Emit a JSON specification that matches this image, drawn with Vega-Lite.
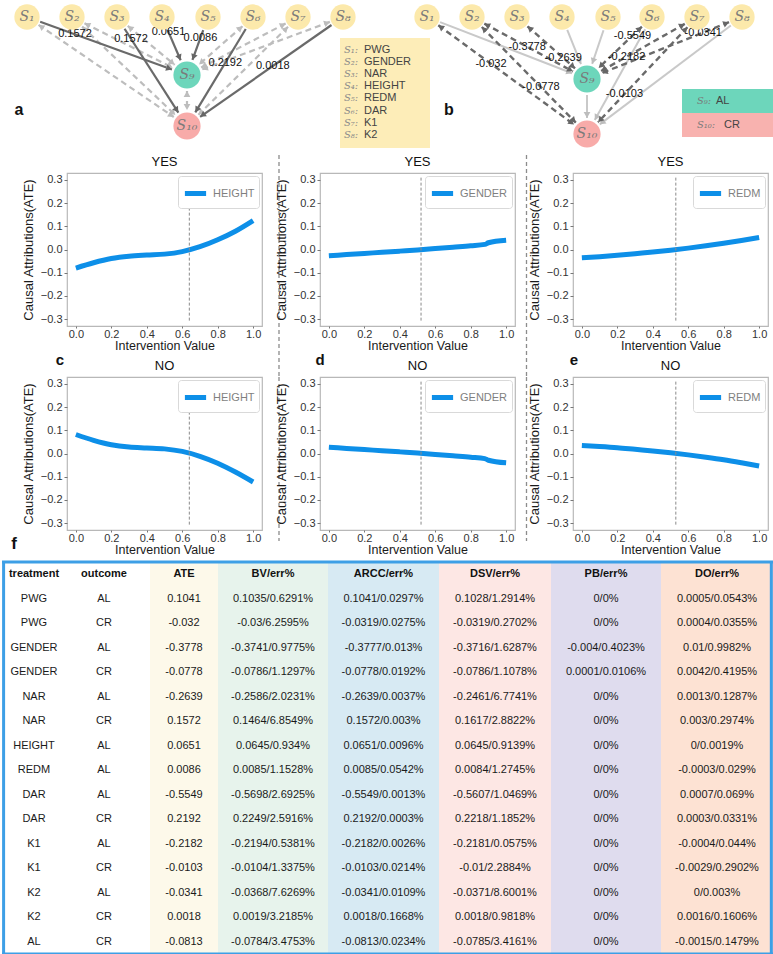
{
"$schema": "https://vega.github.io/schema/vega-lite/v6.json",
"padding": 0,
"background": "white",
"config": {
  "font": "Liberation Sans",
  "view": {"stroke": "#b8b8b8", "strokeWidth": 1.2},
  "axis": {"domain": false, "grid": false, "labelFontSize": 11, "titleFontSize": 13, "titleFontWeight": "normal", "tickSize": 3, "tickColor": "#777777", "labelColor": "#333333", "titleColor": "#1a1a1a", "labelPadding": 2, "labelOverlap": false},
  "title": {"fontSize": 13, "fontWeight": "normal", "offset": 4, "color": "#111111"},
  "legend": {"orient": "top-right", "offset": 3, "strokeColor": "#d9d9d9", "padding": 4, "cornerRadius": 3, "fillColor": "#ffffff", "labelColor": "#7f7f7f", "labelFontSize": 11, "symbolStrokeWidth": 5, "symbolSize": 450}
},
"datasets": {
  "nodes": [
    {"id":"aS1","lab":"S₁","kind":"X","x":25,"y":17},
    {"id":"aS2","lab":"S₂","kind":"X","x":70,"y":17},
    {"id":"aS3","lab":"S₃","kind":"X","x":115,"y":17},
    {"id":"aS4","lab":"S₄","kind":"X","x":160,"y":17},
    {"id":"aS5","lab":"S₅","kind":"X","x":206,"y":17},
    {"id":"aS6","lab":"S₆","kind":"X","x":251,"y":17},
    {"id":"aS7","lab":"S₇","kind":"X","x":296,"y":17},
    {"id":"aS8","lab":"S₈","kind":"X","x":341,"y":17},
    {"id":"aS9","lab":"S₉","kind":"AL","x":185,"y":75},
    {"id":"aS10","lab":"S₁₀","kind":"CR","x":185,"y":126},
    {"id":"bS1","lab":"S₁","kind":"X","x":425,"y":17},
    {"id":"bS2","lab":"S₂","kind":"X","x":470,"y":17},
    {"id":"bS3","lab":"S₃","kind":"X","x":515,"y":17},
    {"id":"bS4","lab":"S₄","kind":"X","x":560,"y":17},
    {"id":"bS5","lab":"S₅","kind":"X","x":606,"y":17},
    {"id":"bS6","lab":"S₆","kind":"X","x":650,"y":17},
    {"id":"bS7","lab":"S₇","kind":"X","x":695,"y":17},
    {"id":"bS8","lab":"S₈","kind":"X","x":740,"y":17},
    {"id":"bS9","lab":"S₉","kind":"AL","x":585,"y":79},
    {"id":"bS10","lab":"S₁₀","kind":"CR","x":585,"y":134}
  ],
  "edges": [
    {"g":"a","s":"S1","t":"S9","w":"0.1572","p":0.3},
    {"g":"a","s":"S3","t":"S10","w":"0.1572","p":0.2},
    {"g":"a","s":"S4","t":"S9","w":"0.0651","p":0.26},
    {"g":"a","s":"S5","t":"S9","w":"0.0086","p":0.36},
    {"g":"a","s":"S6","t":"S10","w":"0.2192","p":0.42},
    {"g":"a","s":"S8","t":"S10","w":"0.0018","p":0.45},
    {"g":"a","s":"S1","t":"S10","w":"","p":0},
    {"g":"a","s":"S2","t":"S9","w":"","p":0},
    {"g":"a","s":"S2","t":"S10","w":"","p":0},
    {"g":"a","s":"S3","t":"S9","w":"","p":0},
    {"g":"a","s":"S6","t":"S9","w":"","p":0},
    {"g":"a","s":"S7","t":"S9","w":"","p":0},
    {"g":"a","s":"S7","t":"S10","w":"","p":0},
    {"g":"a","s":"S8","t":"S9","w":"","p":0},
    {"g":"a","s":"S9","t":"S10","w":"","p":0},
    {"g":"b","s":"S1","t":"S9","w":"","p":0},
    {"g":"b","s":"S4","t":"S9","w":"","p":0},
    {"g":"b","s":"S5","t":"S9","w":"","p":0},
    {"g":"b","s":"S6","t":"S10","w":"","p":0},
    {"g":"b","s":"S8","t":"S10","w":"","p":0},
    {"g":"b","s":"S9","t":"S10","w":"","p":0},
    {"g":"b","s":"S1","t":"S10","w":"-0.032","p":0.4},
    {"g":"b","s":"S2","t":"S9","w":"-0.3778","p":0.48},
    {"g":"b","s":"S2","t":"S10","w":"-0.0778","p":0.6},
    {"g":"b","s":"S3","t":"S9","w":"-0.2639","p":0.66},
    {"g":"b","s":"S6","t":"S9","w":"-0.5549","p":0.3},
    {"g":"b","s":"S7","t":"S9","w":"-0.2182","p":0.64},
    {"g":"b","s":"S7","t":"S10","w":"-0.0103","p":0.66},
    {"g":"b","s":"S8","t":"S9","w":"-0.0341","p":0.25}
  ],
  "legA": [
    {"k":1,"s":"S₁:","name":"PWG"},
    {"k":2,"s":"S₂:","name":"GENDER"},
    {"k":3,"s":"S₃:","name":"NAR"},
    {"k":4,"s":"S₄:","name":"HEIGHT"},
    {"k":5,"s":"S₅:","name":"REDM"},
    {"k":6,"s":"S₆:","name":"DAR"},
    {"k":7,"s":"S₇:","name":"K1"},
    {"k":8,"s":"S₈:","name":"K2"}
  ],
  "legB": [
    {"k":1,"s":"S₉:","name":"AL"},
    {"k":2,"s":"S₁₀:","name":"CR"}
  ],
  "curves": [
    {"feat":"HEIGHT","cond":"YES","iv":0,"ate":-0.080},{"feat":"HEIGHT","cond":"YES","iv":0.1,"ate":-0.057},{"feat":"HEIGHT","cond":"YES","iv":0.2,"ate":-0.039},{"feat":"HEIGHT","cond":"YES","iv":0.3,"ate":-0.029},{"feat":"HEIGHT","cond":"YES","iv":0.4,"ate":-0.024},{"feat":"HEIGHT","cond":"YES","iv":0.5,"ate":-0.020},{"feat":"HEIGHT","cond":"YES","iv":0.6,"ate":-0.009},{"feat":"HEIGHT","cond":"YES","iv":0.7,"ate":0.012},{"feat":"HEIGHT","cond":"YES","iv":0.8,"ate":0.042},{"feat":"HEIGHT","cond":"YES","iv":0.9,"ate":0.079},{"feat":"HEIGHT","cond":"YES","iv":1.0,"ate":0.125},
    {"feat":"HEIGHT","cond":"NO","iv":0,"ate":0.082},{"feat":"HEIGHT","cond":"NO","iv":0.1,"ate":0.057},{"feat":"HEIGHT","cond":"NO","iv":0.2,"ate":0.038},{"feat":"HEIGHT","cond":"NO","iv":0.3,"ate":0.028},{"feat":"HEIGHT","cond":"NO","iv":0.4,"ate":0.024},{"feat":"HEIGHT","cond":"NO","iv":0.5,"ate":0.020},{"feat":"HEIGHT","cond":"NO","iv":0.6,"ate":0.009},{"feat":"HEIGHT","cond":"NO","iv":0.7,"ate":-0.012},{"feat":"HEIGHT","cond":"NO","iv":0.8,"ate":-0.042},{"feat":"HEIGHT","cond":"NO","iv":0.9,"ate":-0.080},{"feat":"HEIGHT","cond":"NO","iv":1.0,"ate":-0.123},
    {"feat":"GENDER","cond":"YES","iv":0,"ate":-0.027},{"feat":"GENDER","cond":"YES","iv":0.1,"ate":-0.022},{"feat":"GENDER","cond":"YES","iv":0.2,"ate":-0.017},{"feat":"GENDER","cond":"YES","iv":0.3,"ate":-0.012},{"feat":"GENDER","cond":"YES","iv":0.4,"ate":-0.007},{"feat":"GENDER","cond":"YES","iv":0.5,"ate":-0.002},{"feat":"GENDER","cond":"YES","iv":0.6,"ate":0.004},{"feat":"GENDER","cond":"YES","iv":0.7,"ate":0.010},{"feat":"GENDER","cond":"YES","iv":0.8,"ate":0.016},{"feat":"GENDER","cond":"YES","iv":0.88,"ate":0.022},{"feat":"GENDER","cond":"YES","iv":0.9,"ate":0.029},{"feat":"GENDER","cond":"YES","iv":1.0,"ate":0.040},
    {"feat":"GENDER","cond":"NO","iv":0,"ate":0.027},{"feat":"GENDER","cond":"NO","iv":0.1,"ate":0.022},{"feat":"GENDER","cond":"NO","iv":0.2,"ate":0.017},{"feat":"GENDER","cond":"NO","iv":0.3,"ate":0.012},{"feat":"GENDER","cond":"NO","iv":0.4,"ate":0.007},{"feat":"GENDER","cond":"NO","iv":0.5,"ate":0.002},{"feat":"GENDER","cond":"NO","iv":0.6,"ate":-0.004},{"feat":"GENDER","cond":"NO","iv":0.7,"ate":-0.010},{"feat":"GENDER","cond":"NO","iv":0.8,"ate":-0.016},{"feat":"GENDER","cond":"NO","iv":0.88,"ate":-0.022},{"feat":"GENDER","cond":"NO","iv":0.9,"ate":-0.029},{"feat":"GENDER","cond":"NO","iv":1.0,"ate":-0.040},
    {"feat":"REDM","cond":"YES","iv":0,"ate":-0.036},{"feat":"REDM","cond":"YES","iv":0.1,"ate":-0.031},{"feat":"REDM","cond":"YES","iv":0.2,"ate":-0.025},{"feat":"REDM","cond":"YES","iv":0.3,"ate":-0.018},{"feat":"REDM","cond":"YES","iv":0.4,"ate":-0.011},{"feat":"REDM","cond":"YES","iv":0.5,"ate":-0.003},{"feat":"REDM","cond":"YES","iv":0.6,"ate":0.006},{"feat":"REDM","cond":"YES","iv":0.7,"ate":0.016},{"feat":"REDM","cond":"YES","iv":0.8,"ate":0.027},{"feat":"REDM","cond":"YES","iv":0.9,"ate":0.039},{"feat":"REDM","cond":"YES","iv":1.0,"ate":0.052},
    {"feat":"REDM","cond":"NO","iv":0,"ate":0.034},{"feat":"REDM","cond":"NO","iv":0.1,"ate":0.030},{"feat":"REDM","cond":"NO","iv":0.2,"ate":0.025},{"feat":"REDM","cond":"NO","iv":0.3,"ate":0.018},{"feat":"REDM","cond":"NO","iv":0.4,"ate":0.011},{"feat":"REDM","cond":"NO","iv":0.5,"ate":0.003},{"feat":"REDM","cond":"NO","iv":0.6,"ate":-0.006},{"feat":"REDM","cond":"NO","iv":0.7,"ate":-0.016},{"feat":"REDM","cond":"NO","iv":0.8,"ate":-0.027},{"feat":"REDM","cond":"NO","iv":0.9,"ate":-0.040},{"feat":"REDM","cond":"NO","iv":1.0,"ate":-0.054}
  ],
  "table": [
    {"i":1,"treatment":"PWG","outcome":"AL","ATE":"0.1041","BV":"0.1035/0.6291%","ARCC":"0.1041/0.0297%","DSV":"0.1028/1.2914%","PB":"0/0%","DO":"0.0005/0.0543%"},
    {"i":2,"treatment":"PWG","outcome":"CR","ATE":"-0.032","BV":"-0.03/6.2595%","ARCC":"-0.0319/0.0275%","DSV":"-0.0319/0.2702%","PB":"0/0%","DO":"0.0004/0.0355%"},
    {"i":3,"treatment":"GENDER","outcome":"AL","ATE":"-0.3778","BV":"-0.3741/0.9775%","ARCC":"-0.3777/0.013%","DSV":"-0.3716/1.6287%","PB":"-0.004/0.4023%","DO":"0.01/0.9982%"},
    {"i":4,"treatment":"GENDER","outcome":"CR","ATE":"-0.0778","BV":"-0.0786/1.1297%","ARCC":"-0.0778/0.0192%","DSV":"-0.0786/1.1078%","PB":"0.0001/0.0106%","DO":"0.0042/0.4195%"},
    {"i":5,"treatment":"NAR","outcome":"AL","ATE":"-0.2639","BV":"-0.2586/2.0231%","ARCC":"-0.2639/0.0037%","DSV":"-0.2461/6.7741%","PB":"0/0%","DO":"0.0013/0.1287%"},
    {"i":6,"treatment":"NAR","outcome":"CR","ATE":"0.1572","BV":"0.1464/6.8549%","ARCC":"0.1572/0.003%","DSV":"0.1617/2.8822%","PB":"0/0%","DO":"0.003/0.2974%"},
    {"i":7,"treatment":"HEIGHT","outcome":"AL","ATE":"0.0651","BV":"0.0645/0.934%","ARCC":"0.0651/0.0096%","DSV":"0.0645/0.9139%","PB":"0/0%","DO":"0/0.0019%"},
    {"i":8,"treatment":"REDM","outcome":"AL","ATE":"0.0086","BV":"0.0085/1.1528%","ARCC":"0.0085/0.0542%","DSV":"0.0084/1.2745%","PB":"0/0%","DO":"-0.0003/0.029%"},
    {"i":9,"treatment":"DAR","outcome":"AL","ATE":"-0.5549","BV":"-0.5698/2.6925%","ARCC":"-0.5549/0.0013%","DSV":"-0.5607/1.0469%","PB":"0/0%","DO":"0.0007/0.069%"},
    {"i":10,"treatment":"DAR","outcome":"CR","ATE":"0.2192","BV":"0.2249/2.5916%","ARCC":"0.2192/0.0003%","DSV":"0.2218/1.1852%","PB":"0/0%","DO":"0.0003/0.0331%"},
    {"i":11,"treatment":"K1","outcome":"AL","ATE":"-0.2182","BV":"-0.2194/0.5381%","ARCC":"-0.2182/0.0026%","DSV":"-0.2181/0.0575%","PB":"0/0%","DO":"-0.0004/0.044%"},
    {"i":12,"treatment":"K1","outcome":"CR","ATE":"-0.0103","BV":"-0.0104/1.3375%","ARCC":"-0.0103/0.0214%","DSV":"-0.01/2.2884%","PB":"0/0%","DO":"-0.0029/0.2902%"},
    {"i":13,"treatment":"K2","outcome":"AL","ATE":"-0.0341","BV":"-0.0368/7.6269%","ARCC":"-0.0341/0.0109%","DSV":"-0.0371/8.6001%","PB":"0/0%","DO":"0/0.003%"},
    {"i":14,"treatment":"K2","outcome":"CR","ATE":"0.0018","BV":"0.0019/3.2185%","ARCC":"0.0018/0.1668%","DSV":"0.0018/0.9818%","PB":"0/0%","DO":"0.0016/0.1606%"},
    {"i":15,"treatment":"AL","outcome":"CR","ATE":"-0.0813","BV":"-0.0784/3.4753%","ARCC":"-0.0813/0.0234%","DSV":"-0.0785/3.4161%","PB":"0/0%","DO":"-0.0015/0.1479%"}
  ]
},
"spacing": 6,
"resolve": {"scale": {"color": "independent"}, "legend": {"color": "independent"}},
"vconcat": [
  {
    "width": 773, "height": 148,
    "view": {"stroke": null},
    "layer": [
      {"data": {"values": [{}]}, "mark": {"type": "rect", "color": "#fdedb8"},
       "encoding": {"x": {"datum": 338, "type": "quantitative", "scale": {"domain": [0, 773], "nice": false, "zero": false}, "axis": null}, "x2": {"datum": 428},
                    "y": {"datum": 38, "type": "quantitative", "scale": {"domain": [0, 148], "nice": false, "zero": false, "reverse": true}, "axis": null}, "y2": {"datum": 148}}},
      {"data": {"values": [{}]}, "mark": {"type": "rect", "color": "#6dd6bb"},
       "encoding": {"x": {"datum": 680, "type": "quantitative", "axis": null}, "x2": {"datum": 771}, "y": {"datum": 89, "type": "quantitative", "axis": null}, "y2": {"datum": 113}}},
      {"data": {"values": [{}]}, "mark": {"type": "rect", "color": "#f8b2af"},
       "encoding": {"x": {"datum": 680, "type": "quantitative", "axis": null}, "x2": {"datum": 771}, "y": {"datum": 113, "type": "quantitative", "axis": null}, "y2": {"datum": 137}}},
      {"data": {"name": "edges"},
       "transform": [
         {"calculate": "datum.g + datum.s", "as": "sid"},
         {"calculate": "datum.g + datum.t", "as": "tid"},
         {"lookup": "sid", "from": {"data": {"name": "nodes"}, "key": "id", "fields": ["x", "y"]}, "as": ["x1", "y1"]},
         {"lookup": "tid", "from": {"data": {"name": "nodes"}, "key": "id", "fields": ["x", "y"]}, "as": ["x2", "y2"]},
         {"calculate": "sqrt(pow(datum.x2 - datum.x1, 2) + pow(datum.y2 - datum.y1, 2))", "as": "L"},
         {"calculate": "(datum.x2 - datum.x1) / datum.L", "as": "ux"},
         {"calculate": "(datum.y2 - datum.y1) / datum.L", "as": "uy"},
         {"calculate": "datum.s == 'S9' ? 16 : 14", "as": "rs"},
         {"calculate": "datum.x1 + datum.ux * datum.rs", "as": "xa"},
         {"calculate": "datum.y1 + datum.uy * datum.rs", "as": "ya"},
         {"calculate": "datum.x2 - datum.ux * 16", "as": "xb"},
         {"calculate": "datum.y2 - datum.uy * 16", "as": "yb"},
         {"calculate": "datum.x2 - datum.ux * 19", "as": "xt"},
         {"calculate": "datum.y2 - datum.uy * 19", "as": "yt"},
         {"calculate": "datum.x1 + datum.ux * (datum.rs + 3)", "as": "xs"},
         {"calculate": "datum.y1 + datum.uy * (datum.rs + 3)", "as": "ys"},
         {"calculate": "atan2(datum.ux, -datum.uy) * 180 / PI", "as": "ang"},
         {"calculate": "datum.ang + 180", "as": "angs"},
         {"calculate": "datum.x1 + datum.p * (datum.x2 - datum.x1)", "as": "lx"},
         {"calculate": "datum.y1 + datum.p * (datum.y2 - datum.y1)", "as": "ly"}
       ],
       "layer": [
         {"transform": [{"filter": "datum.g == 'a' && datum.w == ''"}], "mark": {"type": "rule", "color": "#bdbdbd", "strokeWidth": 2.2, "strokeDash": [6, 4]},
          "encoding": {"x": {"field": "xa", "type": "quantitative", "axis": null}, "y": {"field": "ya", "type": "quantitative", "axis": null}, "x2": {"field": "xb"}, "y2": {"field": "yb"}}},
         {"transform": [{"filter": "datum.g == 'a' && datum.w != ''"}], "mark": {"type": "rule", "color": "#6a6a6a", "strokeWidth": 2.2},
          "encoding": {"x": {"field": "xa", "type": "quantitative", "axis": null}, "y": {"field": "ya", "type": "quantitative", "axis": null}, "x2": {"field": "xb"}, "y2": {"field": "yb"}}},
         {"transform": [{"filter": "datum.g == 'b' && datum.w == ''"}], "mark": {"type": "rule", "color": "#c9c9c9", "strokeWidth": 2},
          "encoding": {"x": {"field": "xa", "type": "quantitative", "axis": null}, "y": {"field": "ya", "type": "quantitative", "axis": null}, "x2": {"field": "xb"}, "y2": {"field": "yb"}}},
         {"transform": [{"filter": "datum.g == 'b' && datum.w != ''"}], "mark": {"type": "rule", "color": "#6a6a6a", "strokeWidth": 2.4, "strokeDash": [6, 4]},
          "encoding": {"x": {"field": "xa", "type": "quantitative", "axis": null}, "y": {"field": "ya", "type": "quantitative", "axis": null}, "x2": {"field": "xb"}, "y2": {"field": "yb"}}},
         {"transform": [{"filter": "datum.w == ''"}], "mark": {"type": "point", "shape": "triangle-up", "filled": true, "size": 45, "color": "#bdbdbd", "opacity": 1},
          "encoding": {"x": {"field": "xt", "type": "quantitative", "axis": null}, "y": {"field": "yt", "type": "quantitative", "axis": null}, "angle": {"field": "ang", "type": "quantitative", "scale": null}}},
         {"transform": [{"filter": "datum.w != ''"}], "mark": {"type": "point", "shape": "triangle-up", "filled": true, "size": 45, "color": "#666666", "opacity": 1},
          "encoding": {"x": {"field": "xt", "type": "quantitative", "axis": null}, "y": {"field": "yt", "type": "quantitative", "axis": null}, "angle": {"field": "ang", "type": "quantitative", "scale": null}}},
         {"transform": [{"filter": "datum.g == 'a' && datum.w == ''"}], "mark": {"type": "point", "shape": "triangle-up", "filled": true, "size": 45, "color": "#bdbdbd", "opacity": 1},
          "encoding": {"x": {"field": "xs", "type": "quantitative", "axis": null}, "y": {"field": "ys", "type": "quantitative", "axis": null}, "angle": {"field": "angs", "type": "quantitative", "scale": null}}},
         {"transform": [{"filter": "datum.g == 'b' && datum.w != ''"}], "mark": {"type": "point", "shape": "triangle-up", "filled": true, "size": 45, "color": "#666666", "opacity": 1},
          "encoding": {"x": {"field": "xs", "type": "quantitative", "axis": null}, "y": {"field": "ys", "type": "quantitative", "axis": null}, "angle": {"field": "angs", "type": "quantitative", "scale": null}}},
         {"transform": [{"filter": "datum.w != ''"}], "mark": {"type": "text", "fontSize": 11, "color": "#111111"},
          "encoding": {"x": {"field": "lx", "type": "quantitative", "axis": null}, "y": {"field": "ly", "type": "quantitative", "axis": null}, "text": {"field": "w"}}}
       ]},
      {"data": {"name": "nodes"},
       "layer": [
         {"transform": [{"filter": "datum.kind == 'X'"}], "mark": {"type": "point", "shape": "circle", "filled": true, "opacity": 1, "size": 640, "color": "#fce9ab"},
          "encoding": {"x": {"field": "x", "type": "quantitative", "axis": null}, "y": {"field": "y", "type": "quantitative", "axis": null}}},
         {"transform": [{"filter": "datum.kind == 'AL'"}], "mark": {"type": "point", "shape": "circle", "filled": true, "opacity": 1, "size": 740, "color": "#6dd6bb"},
          "encoding": {"x": {"field": "x", "type": "quantitative", "axis": null}, "y": {"field": "y", "type": "quantitative", "axis": null}}},
         {"transform": [{"filter": "datum.kind == 'CR'"}], "mark": {"type": "point", "shape": "circle", "filled": true, "opacity": 1, "size": 740, "color": "#f8aba9"},
          "encoding": {"x": {"field": "x", "type": "quantitative", "axis": null}, "y": {"field": "y", "type": "quantitative", "axis": null}}},
         {"mark": {"type": "text", "font": "DejaVu Serif", "fontStyle": "italic", "fontSize": 14, "color": "#7a7a7a"},
          "encoding": {"x": {"field": "x", "type": "quantitative", "axis": null}, "y": {"field": "y", "type": "quantitative", "axis": null}, "text": {"field": "lab"}}}
       ]},
      {"data": {"name": "legA"},
       "transform": [{"calculate": "50 + 12.1 * (datum.k - 1)", "as": "yy"}],
       "layer": [
         {"mark": {"type": "text", "align": "left", "font": "DejaVu Serif", "fontStyle": "italic", "fontSize": 10, "color": "#8a8a8a"},
          "encoding": {"x": {"datum": 342, "type": "quantitative", "axis": null}, "y": {"field": "yy", "type": "quantitative", "axis": null}, "text": {"field": "s"}}},
         {"mark": {"type": "text", "align": "left", "fontSize": 11, "color": "#444444"},
          "encoding": {"x": {"datum": 362, "type": "quantitative", "axis": null}, "y": {"field": "yy", "type": "quantitative", "axis": null}, "text": {"field": "name"}}}
       ]},
      {"data": {"name": "legB"},
       "transform": [{"calculate": "101 + 24 * (datum.k - 1)", "as": "yy"}, {"calculate": "datum.k == 1 ? 714 : 722", "as": "nx"}],
       "layer": [
         {"mark": {"type": "text", "align": "left", "font": "DejaVu Serif", "fontStyle": "italic", "fontSize": 10, "color": "#7a7a7a"},
          "encoding": {"x": {"datum": 695, "type": "quantitative", "axis": null}, "y": {"field": "yy", "type": "quantitative", "axis": null}, "text": {"field": "s"}}},
         {"mark": {"type": "text", "align": "left", "fontSize": 11, "color": "#444444"},
          "encoding": {"x": {"field": "nx", "type": "quantitative", "axis": null}, "y": {"field": "yy", "type": "quantitative", "axis": null}, "text": {"field": "name"}}}
       ]},
      {"data": {"values": [{}]}, "mark": {"type": "text", "fontSize": 16, "fontWeight": "bold", "color": "#111111"},
       "encoding": {"x": {"datum": 17, "type": "quantitative", "axis": null}, "y": {"datum": 110, "type": "quantitative", "axis": null}, "text": {"value": "a"}}},
      {"data": {"values": [{}]}, "mark": {"type": "text", "fontSize": 16, "fontWeight": "bold", "color": "#111111"},
       "encoding": {"x": {"datum": 447, "type": "quantitative", "axis": null}, "y": {"datum": 110, "type": "quantitative", "axis": null}, "text": {"value": "b"}}}
    ]
  },
  {
    "spacing": 3,
    "resolve": {"scale": {"color": "independent"}, "legend": {"color": "independent"}},
    "vconcat": [
      {
        "columns": 6,
        "align": "each",
        "bounds": "flush",
        "spacing": {"row": 51, "column": 17},
        "resolve": {"scale": {"color": "independent"}, "legend": {"color": "independent"}},
        "concat": [
          {"width": 48, "height": 153, "view": {"stroke": null}, "data": {"values": []}, "mark": "point"},
          {"width": 195, "height": 153, "title": {"text": "YES"},
           "data": {"name": "curves"},
           "transform": [{"filter": "datum.feat == 'HEIGHT' && datum.cond == 'YES'"}],
           "resolve": {"scale": {"x": "independent", "y": "independent"}, "axis": {"x": "independent", "y": "independent"}},
           "layer": [
             {"mark": {"type": "line", "strokeWidth": 5, "interpolate": "monotone"},
              "encoding": {
                "x": {"field": "iv", "type": "quantitative", "scale": {"domain": [-0.05, 1.05], "nice": false, "zero": false}, "axis": {"values": [0, 0.2, 0.4, 0.6, 0.8, 1], "format": ".1f", "title": "Intervention Value", "titleFontSize": 12.5, "titlePadding": 0, "labelPadding": 0, "tickSize": 2, "labelOverlap": false}},
                "y": {"field": "ate", "type": "quantitative", "scale": {"domain": [-0.33, 0.33], "nice": false, "zero": false}, "axis": {"values": [-0.3, -0.2, -0.1, 0, 0.1, 0.2, 0.3], "format": ".1f", "title": "Causal Attributions(ATE)", "titlePadding": 5, "labelOverlap": false}},
                "color": {"field": "feat", "type": "nominal", "scale": {"range": ["#0d8fe8"]}, "legend": {"title": null}}}},
             {"transform": [{"aggregate": [{"op": "count", "as": "n"}]}], "mark": {"type": "rule", "color": "#8a8a8a", "strokeDash": [3, 2], "strokeWidth": 1},
              "encoding": {"x": {"datum": 0.64, "type": "quantitative", "scale": {"domain": [-0.05, 1.05], "nice": false, "zero": false}, "axis": null},
                           "y": {"datum": 0.31, "type": "quantitative", "scale": {"domain": [-0.33, 0.33], "nice": false, "zero": false}, "axis": null}, "y2": {"datum": -0.31}}}
           ]},
          {"width": 24, "height": 153, "view": {"stroke": null}, "data": {"values": [{}]},
           "mark": {"type": "rule", "color": "#8c8c8c", "strokeDash": [4, 3], "strokeWidth": 1.3},
           "encoding": {"x": {"datum": 0, "type": "quantitative", "scale": {"domain": [0, 24], "nice": false, "zero": false}, "axis": null},
                        "y": {"datum": -18, "type": "quantitative", "scale": {"domain": [0, 153], "nice": false, "zero": false, "reverse": true}, "axis": null},
                        "y2": {"datum": 204}}},
          {"width": 195, "height": 153, "title": {"text": "YES"},
           "data": {"name": "curves"},
           "transform": [{"filter": "datum.feat == 'GENDER' && datum.cond == 'YES'"}],
           "resolve": {"scale": {"x": "independent", "y": "independent"}, "axis": {"x": "independent", "y": "independent"}},
           "layer": [
             {"mark": {"type": "line", "strokeWidth": 5, "interpolate": "monotone"},
              "encoding": {
                "x": {"field": "iv", "type": "quantitative", "scale": {"domain": [-0.05, 1.05], "nice": false, "zero": false}, "axis": {"values": [0, 0.2, 0.4, 0.6, 0.8, 1], "format": ".1f", "title": "Intervention Value", "titleFontSize": 12.5, "titlePadding": 0, "labelPadding": 0, "tickSize": 2, "labelOverlap": false}},
                "y": {"field": "ate", "type": "quantitative", "scale": {"domain": [-0.33, 0.33], "nice": false, "zero": false}, "axis": {"values": [-0.3, -0.2, -0.1, 0, 0.1, 0.2, 0.3], "format": ".1f", "title": "Causal Attributions(ATE)", "titlePadding": 5, "labelOverlap": false}},
                "color": {"field": "feat", "type": "nominal", "scale": {"range": ["#0d8fe8"]}, "legend": {"title": null}}}},
             {"transform": [{"aggregate": [{"op": "count", "as": "n"}]}], "mark": {"type": "rule", "color": "#8a8a8a", "strokeDash": [3, 2], "strokeWidth": 1},
              "encoding": {"x": {"datum": 0.52, "type": "quantitative", "scale": {"domain": [-0.05, 1.05], "nice": false, "zero": false}, "axis": null},
                           "y": {"datum": 0.31, "type": "quantitative", "scale": {"domain": [-0.33, 0.33], "nice": false, "zero": false}, "axis": null}, "y2": {"datum": -0.31}}}
           ]},
          {"width": 24, "height": 153, "view": {"stroke": null}, "data": {"values": [{}]},
           "mark": {"type": "rule", "color": "#8c8c8c", "strokeDash": [4, 3], "strokeWidth": 1.3},
           "encoding": {"x": {"datum": -5.5, "type": "quantitative", "scale": {"domain": [0, 24], "nice": false, "zero": false}, "axis": null},
                        "y": {"datum": -18, "type": "quantitative", "scale": {"domain": [0, 153], "nice": false, "zero": false, "reverse": true}, "axis": null},
                        "y2": {"datum": 204}}},
          {"width": 195, "height": 153, "title": {"text": "YES"},
           "data": {"name": "curves"},
           "transform": [{"filter": "datum.feat == 'REDM' && datum.cond == 'YES'"}],
           "resolve": {"scale": {"x": "independent", "y": "independent"}, "axis": {"x": "independent", "y": "independent"}},
           "layer": [
             {"mark": {"type": "line", "strokeWidth": 5, "interpolate": "monotone"},
              "encoding": {
                "x": {"field": "iv", "type": "quantitative", "scale": {"domain": [-0.05, 1.05], "nice": false, "zero": false}, "axis": {"values": [0, 0.2, 0.4, 0.6, 0.8, 1], "format": ".1f", "title": "Intervention Value", "titleFontSize": 12.5, "titlePadding": 0, "labelPadding": 0, "tickSize": 2, "labelOverlap": false}},
                "y": {"field": "ate", "type": "quantitative", "scale": {"domain": [-0.33, 0.33], "nice": false, "zero": false}, "axis": {"values": [-0.3, -0.2, -0.1, 0, 0.1, 0.2, 0.3], "format": ".1f", "title": "Causal Attributions(ATE)", "titlePadding": 5, "labelOverlap": false}},
                "color": {"field": "feat", "type": "nominal", "scale": {"range": ["#0d8fe8"]}, "legend": {"title": null}}}},
             {"transform": [{"aggregate": [{"op": "count", "as": "n"}]}], "mark": {"type": "rule", "color": "#8a8a8a", "strokeDash": [3, 2], "strokeWidth": 1},
              "encoding": {"x": {"datum": 0.53, "type": "quantitative", "scale": {"domain": [-0.05, 1.05], "nice": false, "zero": false}, "axis": null},
                           "y": {"datum": 0.31, "type": "quantitative", "scale": {"domain": [-0.33, 0.33], "nice": false, "zero": false}, "axis": null}, "y2": {"datum": -0.31}}}
           ]},
          {"width": 48, "height": 153, "view": {"stroke": null}, "data": {"values": [{}]},
           "layer": [
             {"mark": {"type": "text", "fontSize": 15, "fontWeight": "bold", "color": "#111111"},
              "encoding": {"x": {"datum": 58, "type": "quantitative", "scale": {"domain": [0, 48], "nice": false, "zero": false}, "axis": null},
                           "y": {"datum": -17, "type": "quantitative", "scale": {"domain": [0, 153], "nice": false, "zero": false, "reverse": true}, "axis": null},
                           "text": {"value": "c"}}},
             {"mark": {"type": "text", "fontSize": 17, "fontWeight": "bold", "color": "#111111"},
              "encoding": {"x": {"datum": 12, "type": "quantitative", "axis": null}, "y": {"datum": 167, "type": "quantitative", "axis": null}, "text": {"value": "f"}}}
           ]},
          {"width": 195, "height": 153, "title": {"text": "NO"},
           "data": {"name": "curves"},
           "transform": [{"filter": "datum.feat == 'HEIGHT' && datum.cond == 'NO'"}],
           "resolve": {"scale": {"x": "independent", "y": "independent"}, "axis": {"x": "independent", "y": "independent"}},
           "layer": [
             {"mark": {"type": "line", "strokeWidth": 5, "interpolate": "monotone"},
              "encoding": {
                "x": {"field": "iv", "type": "quantitative", "scale": {"domain": [-0.05, 1.05], "nice": false, "zero": false}, "axis": {"values": [0, 0.2, 0.4, 0.6, 0.8, 1], "format": ".1f", "title": "Intervention Value", "titleFontSize": 12.5, "titlePadding": 0, "labelPadding": 0, "tickSize": 2, "labelOverlap": false}},
                "y": {"field": "ate", "type": "quantitative", "scale": {"domain": [-0.33, 0.33], "nice": false, "zero": false}, "axis": {"values": [-0.3, -0.2, -0.1, 0, 0.1, 0.2, 0.3], "format": ".1f", "title": "Causal Attributions(ATE)", "titlePadding": 5, "labelOverlap": false}},
                "color": {"field": "feat", "type": "nominal", "scale": {"range": ["#0d8fe8"]}, "legend": {"title": null}}}},
             {"transform": [{"aggregate": [{"op": "count", "as": "n"}]}], "mark": {"type": "rule", "color": "#8a8a8a", "strokeDash": [3, 2], "strokeWidth": 1},
              "encoding": {"x": {"datum": 0.64, "type": "quantitative", "scale": {"domain": [-0.05, 1.05], "nice": false, "zero": false}, "axis": null},
                           "y": {"datum": 0.31, "type": "quantitative", "scale": {"domain": [-0.33, 0.33], "nice": false, "zero": false}, "axis": null}, "y2": {"datum": -0.31}}}
           ]},
          {"width": 24, "height": 153, "view": {"stroke": null}, "data": {"values": [{}]},
           "layer": [
             {"mark": {"type": "rule", "color": "#8c8c8c", "strokeDash": [4, 3], "strokeWidth": 1.3},
              "encoding": {"x": {"datum": 0, "type": "quantitative", "scale": {"domain": [0, 24], "nice": false, "zero": false}, "axis": null},
                           "y": {"datum": 0, "type": "quantitative", "scale": {"domain": [0, 153], "nice": false, "zero": false, "reverse": true}, "axis": null},
                           "y2": {"datum": 164}}},
             {"mark": {"type": "text", "fontSize": 15, "fontWeight": "bold", "color": "#111111"},
              "encoding": {"x": {"datum": 41, "type": "quantitative", "axis": null}, "y": {"datum": -17, "type": "quantitative", "axis": null}, "text": {"value": "d"}}}
           ]},
          {"width": 195, "height": 153, "title": {"text": "NO"},
           "data": {"name": "curves"},
           "transform": [{"filter": "datum.feat == 'GENDER' && datum.cond == 'NO'"}],
           "resolve": {"scale": {"x": "independent", "y": "independent"}, "axis": {"x": "independent", "y": "independent"}},
           "layer": [
             {"mark": {"type": "line", "strokeWidth": 5, "interpolate": "monotone"},
              "encoding": {
                "x": {"field": "iv", "type": "quantitative", "scale": {"domain": [-0.05, 1.05], "nice": false, "zero": false}, "axis": {"values": [0, 0.2, 0.4, 0.6, 0.8, 1], "format": ".1f", "title": "Intervention Value", "titleFontSize": 12.5, "titlePadding": 0, "labelPadding": 0, "tickSize": 2, "labelOverlap": false}},
                "y": {"field": "ate", "type": "quantitative", "scale": {"domain": [-0.33, 0.33], "nice": false, "zero": false}, "axis": {"values": [-0.3, -0.2, -0.1, 0, 0.1, 0.2, 0.3], "format": ".1f", "title": "Causal Attributions(ATE)", "titlePadding": 5, "labelOverlap": false}},
                "color": {"field": "feat", "type": "nominal", "scale": {"range": ["#0d8fe8"]}, "legend": {"title": null}}}},
             {"transform": [{"aggregate": [{"op": "count", "as": "n"}]}], "mark": {"type": "rule", "color": "#8a8a8a", "strokeDash": [3, 2], "strokeWidth": 1},
              "encoding": {"x": {"datum": 0.52, "type": "quantitative", "scale": {"domain": [-0.05, 1.05], "nice": false, "zero": false}, "axis": null},
                           "y": {"datum": 0.31, "type": "quantitative", "scale": {"domain": [-0.33, 0.33], "nice": false, "zero": false}, "axis": null}, "y2": {"datum": -0.31}}}
           ]},
          {"width": 24, "height": 153, "view": {"stroke": null}, "data": {"values": [{}]},
           "layer": [
             {"mark": {"type": "rule", "color": "#8c8c8c", "strokeDash": [4, 3], "strokeWidth": 1.3},
              "encoding": {"x": {"datum": -5.5, "type": "quantitative", "scale": {"domain": [0, 24], "nice": false, "zero": false}, "axis": null},
                           "y": {"datum": 0, "type": "quantitative", "scale": {"domain": [0, 153], "nice": false, "zero": false, "reverse": true}, "axis": null},
                           "y2": {"datum": 164}}},
             {"mark": {"type": "text", "fontSize": 15, "fontWeight": "bold", "color": "#111111"},
              "encoding": {"x": {"datum": 42, "type": "quantitative", "axis": null}, "y": {"datum": -17, "type": "quantitative", "axis": null}, "text": {"value": "e"}}}
           ]},
          {"width": 195, "height": 153, "title": {"text": "NO"},
           "data": {"name": "curves"},
           "transform": [{"filter": "datum.feat == 'REDM' && datum.cond == 'NO'"}],
           "resolve": {"scale": {"x": "independent", "y": "independent"}, "axis": {"x": "independent", "y": "independent"}},
           "layer": [
             {"mark": {"type": "line", "strokeWidth": 5, "interpolate": "monotone"},
              "encoding": {
                "x": {"field": "iv", "type": "quantitative", "scale": {"domain": [-0.05, 1.05], "nice": false, "zero": false}, "axis": {"values": [0, 0.2, 0.4, 0.6, 0.8, 1], "format": ".1f", "title": "Intervention Value", "titleFontSize": 12.5, "titlePadding": 0, "labelPadding": 0, "tickSize": 2, "labelOverlap": false}},
                "y": {"field": "ate", "type": "quantitative", "scale": {"domain": [-0.33, 0.33], "nice": false, "zero": false}, "axis": {"values": [-0.3, -0.2, -0.1, 0, 0.1, 0.2, 0.3], "format": ".1f", "title": "Causal Attributions(ATE)", "titlePadding": 5, "labelOverlap": false}},
                "color": {"field": "feat", "type": "nominal", "scale": {"range": ["#0d8fe8"]}, "legend": {"title": null}}}},
             {"transform": [{"aggregate": [{"op": "count", "as": "n"}]}], "mark": {"type": "rule", "color": "#8a8a8a", "strokeDash": [3, 2], "strokeWidth": 1},
              "encoding": {"x": {"datum": 0.53, "type": "quantitative", "scale": {"domain": [-0.05, 1.05], "nice": false, "zero": false}, "axis": null},
                           "y": {"datum": 0.31, "type": "quantitative", "scale": {"domain": [-0.33, 0.33], "nice": false, "zero": false}, "axis": null}, "y2": {"datum": -0.31}}}
           ]}
        ]
      },
      {
        "bounds": "flush",
        "spacing": 0,
        "hconcat": [
          {"width": 64, "height": 392, "view": {"fill": "#ffffff", "stroke": null},
           "layer": [
             {"data": {"name": "table"}, "mark": {"type": "text", "fontSize": 11, "color": "#1a1a1a"},
              "encoding": {"x": {"datum": 0.5, "type": "quantitative", "scale": {"domain": [0, 1], "nice": false, "zero": false}, "axis": null},
                           "y": {"field": "i", "type": "quantitative", "scale": {"domain": [-0.5, 15.5], "nice": false, "zero": false, "reverse": true}, "axis": null},
                           "text": {"field": "treatment"}}},
             {"data": {"values": [{}]}, "mark": {"type": "text", "fontSize": 11, "fontWeight": "bold", "color": "#111111"},
              "encoding": {"x": {"datum": 0.5}, "y": {"datum": 0}, "text": {"value": "treatment"}}},
             {"data": {"values": [{}]}, "mark": {"type": "rule", "color": "#3d9fe6", "strokeWidth": 3}, "encoding": {"y": {"datum": -0.5}}},
             {"data": {"values": [{}]}, "mark": {"type": "rule", "color": "#3d9fe6", "strokeWidth": 3}, "encoding": {"y": {"datum": 15.5}}},
             {"data": {"values": [{}]}, "mark": {"type": "rule", "color": "#3d9fe6", "strokeWidth": 3}, "encoding": {"x": {"datum": 0.025}}}
           ]},
          {"width": 84, "height": 392, "view": {"fill": "#ffffff", "stroke": null},
           "layer": [
             {"data": {"name": "table"}, "mark": {"type": "text", "fontSize": 11, "color": "#1a1a1a", "dx": -4},
              "encoding": {"x": {"datum": 0.5, "type": "quantitative", "scale": {"domain": [0, 1], "nice": false, "zero": false}, "axis": null},
                           "y": {"field": "i", "type": "quantitative", "scale": {"domain": [-0.5, 15.5], "nice": false, "zero": false, "reverse": true}, "axis": null},
                           "text": {"field": "outcome"}}},
             {"data": {"values": [{}]}, "mark": {"type": "text", "fontSize": 11, "fontWeight": "bold", "color": "#111111", "dx": -4},
              "encoding": {"x": {"datum": 0.5}, "y": {"datum": 0}, "text": {"value": "outcome"}}},
             {"data": {"values": [{}]}, "mark": {"type": "rule", "color": "#3d9fe6", "strokeWidth": 3}, "encoding": {"y": {"datum": -0.5}}},
             {"data": {"values": [{}]}, "mark": {"type": "rule", "color": "#3d9fe6", "strokeWidth": 3}, "encoding": {"y": {"datum": 15.5}}}
           ]},
          {"width": 68, "height": 392, "view": {"fill": "#fdf9ea", "stroke": null},
           "layer": [
             {"data": {"name": "table"}, "mark": {"type": "text", "fontSize": 11, "color": "#1a1a1a"},
              "encoding": {"x": {"datum": 0.5, "type": "quantitative", "scale": {"domain": [0, 1], "nice": false, "zero": false}, "axis": null},
                           "y": {"field": "i", "type": "quantitative", "scale": {"domain": [-0.5, 15.5], "nice": false, "zero": false, "reverse": true}, "axis": null},
                           "text": {"field": "ATE"}}},
             {"data": {"values": [{}]}, "mark": {"type": "text", "fontSize": 11, "fontWeight": "bold", "color": "#111111"},
              "encoding": {"x": {"datum": 0.5}, "y": {"datum": 0}, "text": {"value": "ATE"}}},
             {"data": {"values": [{}]}, "mark": {"type": "rule", "color": "#3d9fe6", "strokeWidth": 3}, "encoding": {"y": {"datum": -0.5}}},
             {"data": {"values": [{}]}, "mark": {"type": "rule", "color": "#3d9fe6", "strokeWidth": 3}, "encoding": {"y": {"datum": 15.5}}}
           ]},
          {"width": 110, "height": 392, "view": {"fill": "#e7f3ec", "stroke": null},
           "layer": [
             {"data": {"name": "table"}, "mark": {"type": "text", "fontSize": 11, "color": "#1a1a1a"},
              "encoding": {"x": {"datum": 0.5, "type": "quantitative", "scale": {"domain": [0, 1], "nice": false, "zero": false}, "axis": null},
                           "y": {"field": "i", "type": "quantitative", "scale": {"domain": [-0.5, 15.5], "nice": false, "zero": false, "reverse": true}, "axis": null},
                           "text": {"field": "BV"}}},
             {"data": {"values": [{}]}, "mark": {"type": "text", "fontSize": 11, "fontWeight": "bold", "color": "#111111"},
              "encoding": {"x": {"datum": 0.5}, "y": {"datum": 0}, "text": {"value": "BV/err%"}}},
             {"data": {"values": [{}]}, "mark": {"type": "rule", "color": "#3d9fe6", "strokeWidth": 3}, "encoding": {"y": {"datum": -0.5}}},
             {"data": {"values": [{}]}, "mark": {"type": "rule", "color": "#3d9fe6", "strokeWidth": 3}, "encoding": {"y": {"datum": 15.5}}}
           ]},
          {"width": 111, "height": 392, "view": {"fill": "#d7eaf3", "stroke": null},
           "layer": [
             {"data": {"name": "table"}, "mark": {"type": "text", "fontSize": 11, "color": "#1a1a1a"},
              "encoding": {"x": {"datum": 0.5, "type": "quantitative", "scale": {"domain": [0, 1], "nice": false, "zero": false}, "axis": null},
                           "y": {"field": "i", "type": "quantitative", "scale": {"domain": [-0.5, 15.5], "nice": false, "zero": false, "reverse": true}, "axis": null},
                           "text": {"field": "ARCC"}}},
             {"data": {"values": [{}]}, "mark": {"type": "text", "fontSize": 11, "fontWeight": "bold", "color": "#111111"},
              "encoding": {"x": {"datum": 0.5}, "y": {"datum": 0}, "text": {"value": "ARCC/err%"}}},
             {"data": {"values": [{}]}, "mark": {"type": "rule", "color": "#3d9fe6", "strokeWidth": 3}, "encoding": {"y": {"datum": -0.5}}},
             {"data": {"values": [{}]}, "mark": {"type": "rule", "color": "#3d9fe6", "strokeWidth": 3}, "encoding": {"y": {"datum": 15.5}}}
           ]},
          {"width": 112, "height": 392, "view": {"fill": "#fde7e4", "stroke": null},
           "layer": [
             {"data": {"name": "table"}, "mark": {"type": "text", "fontSize": 11, "color": "#1a1a1a"},
              "encoding": {"x": {"datum": 0.5, "type": "quantitative", "scale": {"domain": [0, 1], "nice": false, "zero": false}, "axis": null},
                           "y": {"field": "i", "type": "quantitative", "scale": {"domain": [-0.5, 15.5], "nice": false, "zero": false, "reverse": true}, "axis": null},
                           "text": {"field": "DSV"}}},
             {"data": {"values": [{}]}, "mark": {"type": "text", "fontSize": 11, "fontWeight": "bold", "color": "#111111"},
              "encoding": {"x": {"datum": 0.5}, "y": {"datum": 0}, "text": {"value": "DSV/err%"}}},
             {"data": {"values": [{}]}, "mark": {"type": "rule", "color": "#3d9fe6", "strokeWidth": 3}, "encoding": {"y": {"datum": -0.5}}},
             {"data": {"values": [{}]}, "mark": {"type": "rule", "color": "#3d9fe6", "strokeWidth": 3}, "encoding": {"y": {"datum": 15.5}}}
           ]},
          {"width": 110, "height": 392, "view": {"fill": "#dfdcee", "stroke": null},
           "layer": [
             {"data": {"name": "table"}, "mark": {"type": "text", "fontSize": 11, "color": "#1a1a1a"},
              "encoding": {"x": {"datum": 0.5, "type": "quantitative", "scale": {"domain": [0, 1], "nice": false, "zero": false}, "axis": null},
                           "y": {"field": "i", "type": "quantitative", "scale": {"domain": [-0.5, 15.5], "nice": false, "zero": false, "reverse": true}, "axis": null},
                           "text": {"field": "PB"}}},
             {"data": {"values": [{}]}, "mark": {"type": "text", "fontSize": 11, "fontWeight": "bold", "color": "#111111"},
              "encoding": {"x": {"datum": 0.5}, "y": {"datum": 0}, "text": {"value": "PB/err%"}}},
             {"data": {"values": [{}]}, "mark": {"type": "rule", "color": "#3d9fe6", "strokeWidth": 3}, "encoding": {"y": {"datum": -0.5}}},
             {"data": {"values": [{}]}, "mark": {"type": "rule", "color": "#3d9fe6", "strokeWidth": 3}, "encoding": {"y": {"datum": 15.5}}}
           ]},
          {"width": 112, "height": 392, "view": {"fill": "#fde2d3", "stroke": null},
           "layer": [
             {"data": {"name": "table"}, "mark": {"type": "text", "fontSize": 11, "color": "#1a1a1a"},
              "encoding": {"x": {"datum": 0.5, "type": "quantitative", "scale": {"domain": [0, 1], "nice": false, "zero": false}, "axis": null},
                           "y": {"field": "i", "type": "quantitative", "scale": {"domain": [-0.5, 15.5], "nice": false, "zero": false, "reverse": true}, "axis": null},
                           "text": {"field": "DO"}}},
             {"data": {"values": [{}]}, "mark": {"type": "text", "fontSize": 11, "fontWeight": "bold", "color": "#111111"},
              "encoding": {"x": {"datum": 0.5}, "y": {"datum": 0}, "text": {"value": "DO/err%"}}},
             {"data": {"values": [{}]}, "mark": {"type": "rule", "color": "#3d9fe6", "strokeWidth": 3}, "encoding": {"y": {"datum": -0.5}}},
             {"data": {"values": [{}]}, "mark": {"type": "rule", "color": "#3d9fe6", "strokeWidth": 3}, "encoding": {"y": {"datum": 15.5}}},
             {"data": {"values": [{}]}, "mark": {"type": "rule", "color": "#3d9fe6", "strokeWidth": 3}, "encoding": {"x": {"datum": 0.985}}}
           ]}
        ]
      }
    ]
  }
]
}
